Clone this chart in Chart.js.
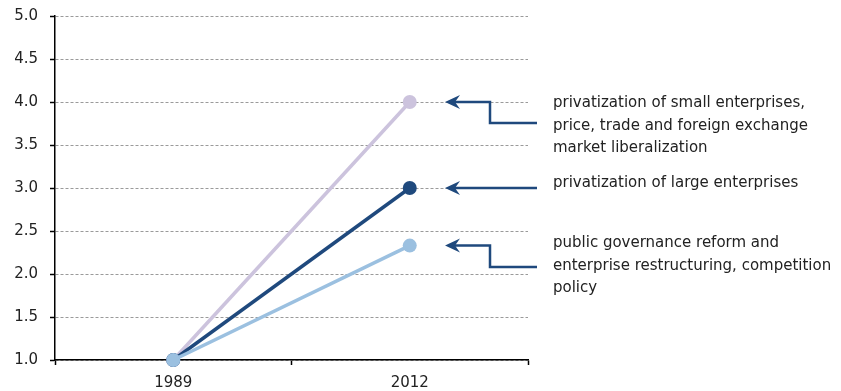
<!DOCTYPE html>
<html>
<head>
<meta charset="utf-8">
<script src="https://cdn.jsdelivr.net/npm/chart.js@4/dist/chart.umd.min.js"></script>
<style>
  html, body { margin: 0; padding: 0; background: #fff; }
  #wrap { width: 841px; height: 391px; }
</style>
</head>
<body>
<div id="wrap"><canvas id="c" width="841" height="391"></canvas></div>
<script>
// Reform scores, 1989 vs 2012
const categories = ['1989', '2012'];
const governanceReform = [1.0, 2.33];
const largePrivatization = [1.0, 3.0];
const smallPrivatization = [1.0, 4.0];
const yTickValues = [1.0, 1.5, 2.0, 2.5, 3.0, 3.5, 4.0, 4.5, 5.0];

// Callout texts on the right
const smallLabel = ['privatization of small enterprises,', 'price, trade and foreign exchange', 'market liberalization'];
const largeLabel = ['privatization of large enterprises'];
const governanceLabel = ['public governance reform and', 'enterprise restructuring, competition', 'policy'];

const NAVY = '#1f497d';
const LIGHT = '#9bc0e0';
const LAVENDER = '#ccc3dd';
const FONT = '"DejaVu Sans", sans-serif';

function drawArrowHead(ctx, x, y) {
  ctx.beginPath();
  ctx.moveTo(x, y);
  ctx.lineTo(x + 15, y - 7);
  ctx.lineTo(x + 10, y);
  ctx.lineTo(x + 15, y + 7);
  ctx.closePath();
  ctx.fill();
}

const callouts = {
  id: 'callouts',
  afterDraw(chart) {
    const ctx = chart.ctx;
    const y = chart.scales.y;
    const items = [
      { value: smallPrivatization[1], lines: smallLabel, drop: 21, textShift: 1.5 },
      { value: largePrivatization[1], lines: largeLabel, drop: 0, textShift: -4.5 },
      { value: governanceReform[1], lines: governanceLabel, drop: 21.5, textShift: -2.5 }
    ];
    const tipX = 445, elbowX = 490, endX = 537, textX = 553, lineH = 22.5;
    ctx.save();
    ctx.strokeStyle = NAVY;
    ctx.fillStyle = NAVY;
    ctx.lineWidth = 2.5;
    items.forEach(it => {
      const py = y.getPixelForValue(it.value);
      ctx.beginPath();
      ctx.moveTo(tipX + 10, py);
      if (it.drop) {
        ctx.lineTo(elbowX, py);
        ctx.lineTo(elbowX, py + it.drop);
        ctx.lineTo(endX, py + it.drop);
      } else {
        ctx.lineTo(endX, py);
      }
      ctx.stroke();
      drawArrowHead(ctx, tipX, py);
      ctx.save();
      ctx.fillStyle = '#222';
      ctx.font = '15px ' + FONT;
      ctx.textBaseline = 'middle';
      ctx.textAlign = 'left';
      const startY = py + it.textShift;
      it.lines.forEach((t, i) => ctx.fillText(t, textX, startY + i * lineH));
      ctx.restore();
    });
    ctx.restore();
  }
};

new Chart(document.getElementById('c'), {
  type: 'line',
  data: {
    labels: categories,
    datasets: [
      { data: governanceReform, borderColor: LIGHT, backgroundColor: LIGHT },
      { data: largePrivatization, borderColor: NAVY, backgroundColor: NAVY },
      { data: smallPrivatization, borderColor: LAVENDER, backgroundColor: LAVENDER }
    ]
  },
  options: {
    responsive: false,
    animation: false,
    events: [],
    clip: false,
    layout: { padding: { top: 16, right: 313, left: 0, bottom: 0 } },
    elements: {
      line: { borderWidth: 3.5, tension: 0 },
      point: { radius: 7, borderWidth: 0 }
    },
    plugins: { legend: { display: false }, tooltip: { enabled: false } },
    scales: {
      x: {
        offset: true,
        grid: { offset: true, drawOnChartArea: false, drawTicks: true, tickLength: 5, tickColor: '#000', tickWidth: 1.5 },
        border: { color: '#000', width: 1.5 },
        ticks: { color: '#222', font: { family: FONT, size: 15 }, padding: 9, maxRotation: 0 },
        afterFit: s => { s.height = 31; s.paddingLeft = 0; s.paddingRight = 0; }
      },
      y: {
        min: 1, max: 5,
        afterBuildTicks: s => { s.ticks = yTickValues.map(v => ({ value: v })); },
        grid: { color: '#9a9a9a', lineWidth: 1, tickLength: 5, tickColor: '#000', tickWidth: 1.5, tickBorderDash: [] },
        border: { color: '#000', width: 1.5, dash: [3, 2] },
        ticks: { color: '#222', font: { family: FONT, size: 15 }, padding: 12, callback: v => Number(v).toFixed(1) },
        afterFit: s => { s.width = 55; s.paddingTop = 0; s.paddingBottom = 0; }
      }
    }
  },
  plugins: [callouts]
});
</script>
</body>
</html>
